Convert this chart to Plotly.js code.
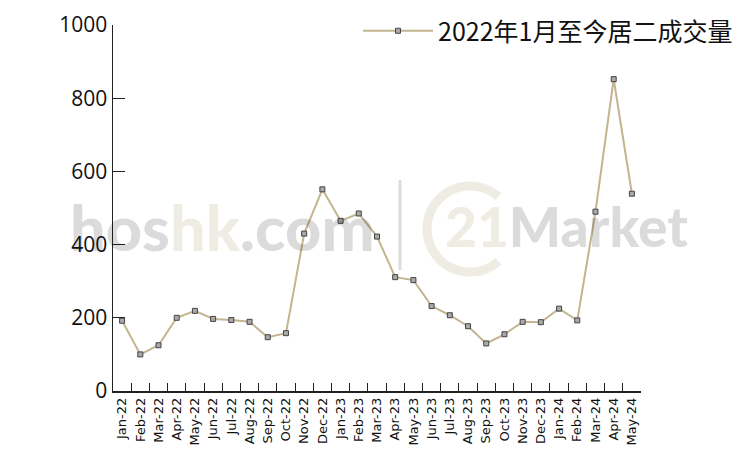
<!DOCTYPE html>
<html>
<head>
<meta charset="utf-8">
<script src="https://cdn.plot.ly/plotly-3.0.1.min.js"></script>
<style>html,body{margin:0;padding:0;background:#fff;}#chart{width:750px;height:450px;}</style>
</head>
<body>
<div id="chart"></div>
<script>
const months = ["Jan-22","Feb-22","Mar-22","Apr-22","May-22","Jun-22","Jul-22","Aug-22","Sep-22","Oct-22","Nov-22","Dec-22",
  "Jan-23","Feb-23","Mar-23","Apr-23","May-23","Jun-23","Jul-23","Aug-23","Sep-23","Oct-23","Nov-23","Dec-23",
  "Jan-24","Feb-24","Mar-24","Apr-24","May-24"];
const volumes = [192,100,125,200,219,197,194,189,147,158,430,551,465,485,422,311,303,232,207,177,130,155,189,188,225,193,490,852,539];
const seriesName = "2022年1月至今居二成交量";
const yTicks = [0,200,400,600,800,1000];

// plot area in pixels (style only)
const L = 113, R = 641, T = 25, B = 391;
const px = x => (x - L) / (R - L);
const py = y => (B - y) / (B - T);

// "C" arc of the watermark, approximated with cubic beziers (style only)
function arcPath(cx, cy, r, a0, a1, n) {
  let d = "";
  const step = (a1 - a0) / n;
  const k = 4 / 3 * Math.tan(step / 4);
  for (let i = 0; i < n; i++) {
    const t0 = a0 + i * step, t1 = t0 + step;
    const p0 = [cx + r * Math.cos(t0), cy - r * Math.sin(t0)];
    const p3 = [cx + r * Math.cos(t1), cy - r * Math.sin(t1)];
    const p1 = [p0[0] - k * r * Math.sin(t0), p0[1] - k * r * Math.cos(t0)];
    const p2 = [p3[0] + k * r * Math.sin(t1), p3[1] + k * r * Math.cos(t1)];
    if (i === 0) d += "M" + px(p0[0]) + "," + py(p0[1]);
    d += " C" + px(p1[0]) + "," + py(p1[1]) + " " + px(p2[0]) + "," + py(p2[1]) + " " + px(p3[0]) + "," + py(p3[1]);
  }
  return d;
}

const trace = {
  x: months, y: volumes, name: seriesName, type: "scatter", mode: "lines+markers",
  line: {color: "#c2b58f", width: 2},
  marker: {symbol: "square", size: 5, color: "#a9a9a9", line: {color: "#444", width: 1}}
};

const grey = "rgba(0,0,0,0.14)";
const beige = "rgba(175,160,120,0.2)";

const layout = {
  width: 750, height: 450,
  margin: {l: L, r: 750 - R, t: T, b: 450 - B, autoexpand: false},
  paper_bgcolor: "#fff", plot_bgcolor: "#fff",
  font: {family: "Liberation Sans, Arial, sans-serif", color: "#111"},
  showlegend: true,
  legend: {orientation: "h", x: px(358), xanchor: "left", y: py(31), yanchor: "middle", itemwidth: 70,
    font: {size: 25, family: "Noto Sans CJK SC, sans-serif", color: "#111"}, bgcolor: "rgba(0,0,0,0)"},
  xaxis: {
    type: "category", range: [-0.5, 28.5], showgrid: false, zeroline: false,
    showline: true, linecolor: "#222", linewidth: 1.5,
    ticks: "inside", tickson: "boundaries", ticklen: 8, tickcolor: "#222", tickwidth: 1,
    tickangle: -90, tickfont: {size: 13, family: "DejaVu Sans, sans-serif", color: "#111"}
  },
  yaxis: {
    range: [0, 1000], tickvals: yTicks, showgrid: false, zeroline: false,
    showline: true, linecolor: "#222", linewidth: 1.5,
    ticks: "inside", ticklen: 12, tickcolor: "#222", tickwidth: 1,
    tickfont: {size: 21, family: "Open Sans, sans-serif", color: "#111"}
  },
  shapes: [
    {type: "line", xref: "paper", yref: "paper", x0: px(400), x1: px(400), y0: py(270), y1: py(180),
      line: {color: "#dcdcdc", width: 3}, layer: "below"},
    {type: "path", xref: "paper", yref: "paper", layer: "below",
      path: arcPath(470, 229, 43, Math.PI * 0.27, Math.PI * 1.73, 6),
      line: {color: "#efece4", width: 9}}
  ],
  annotations: [
    {xref: "paper", yref: "paper", x: px(222), y: py(226), xanchor: "center", yanchor: "middle", showarrow: false,
      text: "<span style='color:" + grey + "'>hos</span><span style='color:" + beige + "'>hk</span><span style='color:" + grey + "'>.com</span>",
      font: {size: 63, family: "Lato, sans-serif", weight: 900, color: "#000"}},
    {xref: "paper", yref: "paper", x: px(566), y: py(226), xanchor: "center", yanchor: "middle", showarrow: false,
      text: "<span style='color:" + beige + "'>21</span><span style='color:" + grey + "'>Market</span>",
      font: {size: 55, family: "Lato, sans-serif", weight: 900, color: "#000"}}
  ]
};

Plotly.newPlot("chart", [trace], layout, {displayModeBar: false, staticPlot: true});
</script>
</body>
</html>
